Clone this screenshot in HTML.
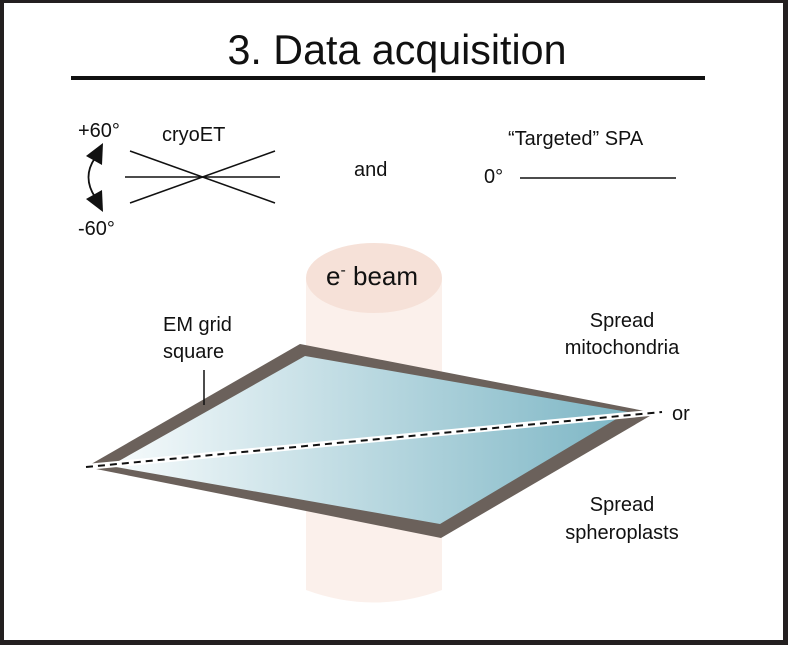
<!DOCTYPE html>
<html><head><style>
html,body{margin:0;padding:0;background:#fff}
svg{display:block}
text{font-family:"Liberation Sans",Arial,sans-serif;fill:#111}
</style></head><body>
<svg width="788" height="645" viewBox="0 0 788 645" xmlns="http://www.w3.org/2000/svg">
<defs>
<linearGradient id="g" x1="0" x2="1" y1="0" y2="0">
<stop offset="0" stop-color="#f7fbfc"/>
<stop offset="1" stop-color="#7db6c5"/>
</linearGradient>
</defs>
<rect x="0" y="0" width="788" height="645" fill="#231f20"/>
<rect x="4" y="3" width="779" height="637" fill="#fff"/>
<text x="397" y="64" font-size="42" text-anchor="middle" textLength="339" lengthAdjust="spacingAndGlyphs">3. Data acquisition</text>
<rect x="71" y="76" width="634" height="4" fill="#111"/>
<text x="78" y="137" font-size="20">+60°</text>
<text x="78" y="235" font-size="20">-60°</text>
<text x="162" y="141" font-size="20">cryoET</text>
<line x1="125" y1="177" x2="280" y2="177" stroke="#111" stroke-width="1.5"/>
<line x1="130" y1="151" x2="275" y2="203" stroke="#111" stroke-width="1.5"/>
<line x1="130" y1="203" x2="275" y2="151" stroke="#111" stroke-width="1.5"/>
<path d="M95 158 Q82 177 95 197" fill="none" stroke="#111" stroke-width="1.8"/>
<polygon points="86,156 103,143 102,165" fill="#111"/>
<polygon points="86,199 103,212 102,190" fill="#111"/>
<text x="354" y="176" font-size="20">and</text>
<text x="508" y="145" font-size="20">“Targeted” SPA</text>
<text x="484" y="183" font-size="20">0°</text>
<line x1="520" y1="178" x2="676" y2="178" stroke="#111" stroke-width="1.5"/>
<path d="M306 278 L306 590 Q374 615 442 590 L442 278 Z" fill="#fbf0eb"/>
<ellipse cx="374" cy="278" rx="68" ry="35" fill="#f6e1d8"/>
<text x="372" y="285" font-size="26" text-anchor="middle">e<tspan font-size="16" dy="-10">-</tspan><tspan dy="10"> beam</tspan></text>
<polygon points="300,344 655,413 441,538 86,467" fill="#6b615b"/>
<polygon points="305,356 628,412 440,524 110,466" fill="url(#g)"/>
<line x1="86" y1="467" x2="660" y2="412" stroke="#fff" stroke-width="6"/>
<line x1="86" y1="467" x2="662" y2="412" stroke="#111" stroke-width="2" stroke-dasharray="7,5"/>
<line x1="204" y1="370" x2="204" y2="405" stroke="#111" stroke-width="1.5"/>
<text x="163" y="331" font-size="20">EM grid</text>
<text x="163" y="358" font-size="20">square</text>
<text x="622" y="327" font-size="20" text-anchor="middle">Spread</text>
<text x="622" y="354" font-size="20" text-anchor="middle">mitochondria</text>
<text x="672" y="420" font-size="20">or</text>
<text x="622" y="511" font-size="20" text-anchor="middle">Spread</text>
<text x="622" y="539" font-size="20" text-anchor="middle">spheroplasts</text>
</svg>
</body></html>
